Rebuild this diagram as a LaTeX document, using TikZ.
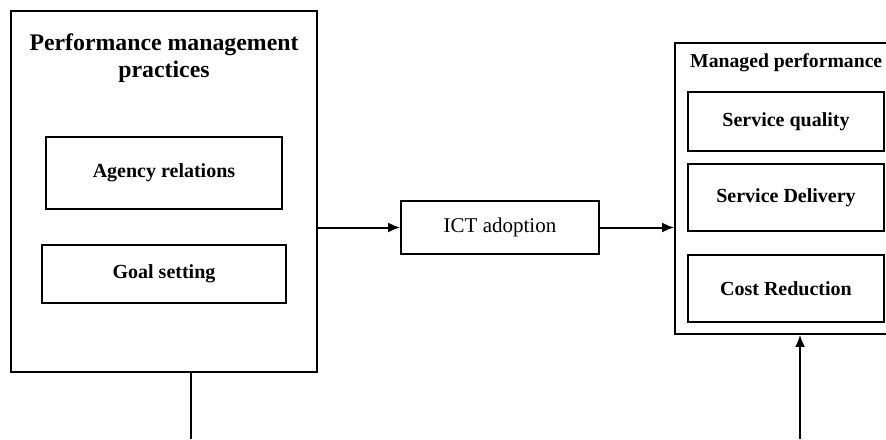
\documentclass[tikz,border=0pt]{standalone}
\usepackage{fontspec}
\setmainfont{Liberation Serif}
\usetikzlibrary{arrows.meta}
\begin{document}
\begin{tikzpicture}[x=1pt,y=-1pt,
  frame/.style={draw, line width=1.7pt, inner sep=0pt},
  inbox/.style={frame, font=\bfseries\fontsize{20}{24}\selectfont},
  headline/.style={font=\bfseries\fontsize{23.8}{27}\selectfont, align=center, inner sep=0pt},
  link/.style={line width=2pt},
  flow/.style={link, -{Latex[length=12pt,width=10pt]}}
]
\clip (0,0) rectangle (886,439);

% left block: practices
\node[frame, minimum width=306pt, minimum height=361pt] (pmp) at (164,191.5) {};
\node[headline] (pmptitle) at (164,58) {Performance management\\practices};
\node[inbox, minimum width=236pt, minimum height=72pt] (agency) at (164,173) {Agency relations};
\node[inbox, minimum width=244pt, minimum height=58pt] (goal) at (164,274) {Goal setting};

% mediator
\node[frame, minimum width=198pt, minimum height=53pt, font=\fontsize{21}{24}\selectfont] (ict) at (500,227.5) {ICT adoption};

% right block: outcomes
\node[frame, minimum width=325pt, minimum height=291pt] (mp) at (837.5,188.5) {};
\node[font=\bfseries\fontsize{19.7}{23}\selectfont, anchor=west, inner sep=0pt] (mptitle) at (690,63) {Managed performance};
\node[inbox, minimum width=196pt, minimum height=59pt] (sq) at (786,121.5) {Service quality};
\node[inbox, minimum width=196pt, minimum height=67pt] (sd) at (786,197.5) {Service Delivery};
\node[inbox, minimum width=196pt, minimum height=67pt] (cr) at (786,288.5) {Cost Reduction};

% connectors
\draw[flow] (pmp.east |- ict.west) -- (ict.west);
\draw[flow] (ict.east) -- (ict.east -| mp.west);
\coordinate (leftfoot) at (191,439);
\coordinate (rightfoot) at (800,439);
\draw[link] (pmp.south -| leftfoot) -- (leftfoot);
\draw[flow] (rightfoot) -- (rightfoot |- mp.south);
\end{tikzpicture}
\end{document}
